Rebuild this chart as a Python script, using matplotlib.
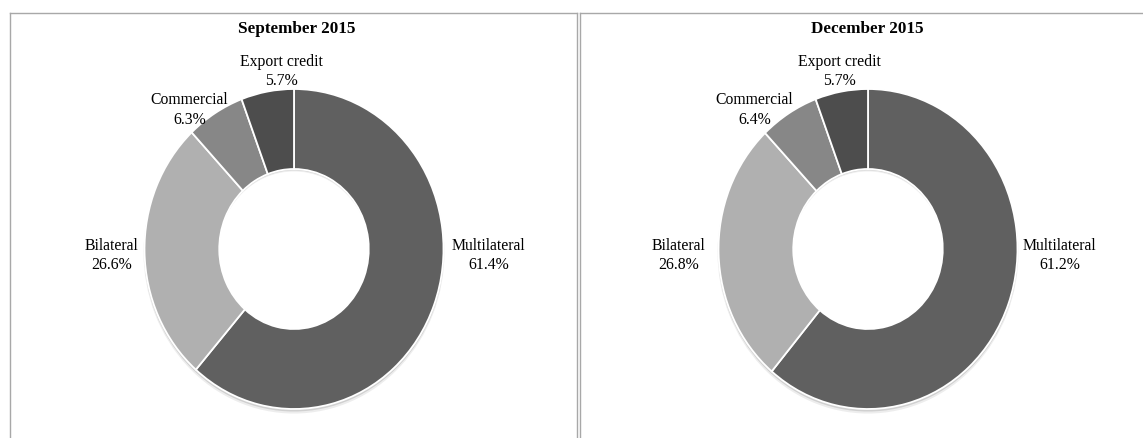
import matplotlib
matplotlib.use("Agg")
import matplotlib.pyplot as plt
from matplotlib.patches import Wedge
from matplotlib.lines import Line2D

# ---- data ----
categories = ["Multilateral", "Bilateral", "Commercial", "Export credit"]
sep_2015 = [61.4, 26.6, 6.3, 5.7]
dec_2015 = [61.2, 26.8, 6.4, 5.7]
titles = ["September 2015", "December 2015"]
colors = ["#606060", "#b0b0b0", "#878787", "#4d4d4d"]

# ---- layout ----
W, H = 1143, 438
plt.rcParams["font.family"] = ["Liberation Serif", "DejaVu Serif"]
fig = plt.figure(figsize=(W / 100, H / 100), dpi=100)

def fx(px):
    return px / W

def fy(py):
    return 1 - py / H

# panel borders
border = "#a8a8a8"
for x0, x1 in [(10, 577), (579.5, 1143)]:
    fig.add_artist(Line2D([fx(x0), fx(x1)], [fy(13), fy(13)], color=border, lw=1.0))
    fig.add_artist(Line2D([fx(x0), fx(x0)], [fy(13), fy(440)], color=border, lw=1.0))
fig.add_artist(Line2D([fx(577), fx(577)], [fy(13), fy(440)], color=border, lw=1.0))

centers_x = [294, 868]
center_y = 249
rx, ry = 149.5, 160
title_pos = [(297, 29), (867, 29)]

# label positions in axis (data) units, per panel
label_pos = [
    [(1.30, -0.04), (-1.22, -0.04), (-0.70, 0.87), (-0.087, 1.11)],
    [(1.28, -0.04), (-1.27, -0.04), (-0.76, 0.87), (-0.19, 1.11)],
]

for i, vals in enumerate([sep_2015, dec_2015]):
    cx = centers_x[i]
    ax = fig.add_axes([fx(cx - rx), fy(center_y + ry), (2 * rx) / W, (2 * ry) / H])
    ax.axis("off")

    # soft shadow behind ring
    for off, a in [(0.022, 0.07), (0.012, 0.12)]:
        sh = Wedge((0, -off), 1.0 + off * 0.3, 0, 360, width=0.5,
                   facecolor="#000000", alpha=a, edgecolor="none", clip_on=False)
        ax.add_patch(sh)

    wedges, _ = ax.pie(vals, colors=colors, startangle=90, counterclock=False,
                       radius=1.0, wedgeprops=dict(width=0.5, edgecolor="white", linewidth=1.3),
                       frame=False)
    for w in wedges:
        w.set_clip_on(False)
    ax.set_xlim(-1, 1)
    ax.set_ylim(-1, 1)
    ax.set_aspect("auto")

    for (lx, ly), cat, v in zip(label_pos[i], categories, vals):
        ax.text(lx, ly, f"{cat}\n{v:.1f}%", ha="center", va="center", fontsize=11.3,
                color="#000000", linespacing=1.3, clip_on=False)

    tx, ty = title_pos[i]
    fig.text(fx(tx), fy(ty), titles[i], ha="center", va="center", fontsize=12.3,
             fontweight="bold", color="#000000")

fig.savefig("out.png", dpi=100, facecolor="white")
